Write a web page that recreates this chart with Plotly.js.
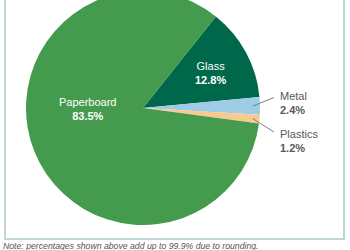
<!DOCTYPE html>
<html>
<head>
<meta charset="utf-8">
<script src="https://cdn.plot.ly/plotly-3.0.1.min.js"></script>
<style>
  html, body { margin: 0; padding: 0; background: #ffffff; overflow: hidden; width: 350px; height: 250px; }
  #chart { position: absolute; left: 0; top: -10px; width: 350px; height: 260px; }
</style>
</head>
<body>
<div id="chart"></div>
<script>
// ---- data ----
const labels = ['Glass', 'Metal', 'Plastics', 'Paperboard'];
const values = [12.8, 2.4, 1.2, 83.5];
const sliceColors = ['#00684a', '#9ecce7', '#f9c98f', '#449b4d'];
const insideLabel = [true, false, false, true];
const noteText = 'Note: percentages shown above add up to 99.9% due to rounding.';

// ---- layout constants (pixels in the 350x260 figure) ----
const W = 350, H = 260, OFF = 10;
const cx = 143, cy = 108, R = 117;       // pie centre / radius in window px
const startDeg = 51.5;                    // first slice starts here (deg, ccw from +x)
const px = x => x / W;
const py = y => 1 - (y + OFF) / H;

const fontName = '"Liberation Sans", Arial, sans-serif';

const pie = {
  type: 'pie',
  labels: labels,
  values: values,
  sort: false,
  direction: 'clockwise',
  rotation: 90 - startDeg,
  marker: { colors: sliceColors, line: { width: 0 } },
  textinfo: 'none',
  hoverinfo: 'none',
  showlegend: false,
  domain: { x: [px(cx - R), px(cx + R)], y: [py(cy + R), py(cy - R)] }
};

// label placement (window px): inside labels centred, outside labels left-aligned
const labelPos = {
  'Glass': [210, 73.5],
  'Metal': [278, 102.5],
  'Plastics': [278, 141],
  'Paperboard': [88, 109]
};

const total = values.reduce((a, b) => a + b, 0);
const annotations = [];
const shapes = [];
let acc = 0;
values.forEach((v, i) => {
  const a0 = startDeg - acc / total * 360;
  acc += v;
  const a1 = startDeg - acc / total * 360;
  const [tx, ty] = labelPos[labels[i]];
  const txt = labels[i] + '<br><b>' + v.toFixed(1) + '%</b>';
  if (insideLabel[i]) {
    annotations.push({
      xref: 'paper', yref: 'paper', x: px(tx), y: py(ty),
      xanchor: 'center', yanchor: 'middle', align: 'center', showarrow: false,
      text: txt,
      font: { family: fontName, size: 11, color: '#ffffff' }
    });
    return;
  }
  const mid = (a0 + a1) / 2 * Math.PI / 180;
  const hx = cx + R * 0.94 * Math.cos(mid);
  const hy = cy - R * 0.94 * Math.sin(mid);
  const tailY = ty < cy + 10 ? ty - 5 : ty - 9;
  shapes.push({
    type: 'line', xref: 'paper', yref: 'paper',
    x0: px(hx), y0: py(hy), x1: px(tx - 4), y1: py(tailY),
    line: { color: '#7d7f81', width: 1 }
  });
  annotations.push({
    xref: 'paper', yref: 'paper', x: px(tx), y: py(ty),
    xanchor: 'left', yanchor: 'middle', align: 'left', showarrow: false,
    text: txt,
    font: { family: fontName, size: 11, color: '#58595b' }
  });
});

// frame
shapes.push({
  type: 'rect', xref: 'paper', yref: 'paper', layer: 'below',
  x0: px(5), x1: px(344), y0: py(239), y1: 1.0,
  line: { color: '#a8d0c1', width: 1.5 }, fillcolor: 'rgba(0,0,0,0)'
});

// note
annotations.push({
  xref: 'paper', yref: 'paper', x: px(1), y: py(245.5),
  xanchor: 'left', yanchor: 'middle', showarrow: false,
  text: noteText,
  font: { family: fontName, size: 8.7, color: '#555555', style: 'italic' }
});

const layout = {
  width: W, height: H,
  margin: { l: 0, r: 0, t: 0, b: 0, pad: 0 },
  paper_bgcolor: '#ffffff',
  plot_bgcolor: '#ffffff',
  showlegend: false,
  shapes: shapes,
  annotations: annotations
};

Plotly.newPlot('chart', [pie], layout, { staticPlot: true, displayModeBar: false });
</script>
</body>
</html>
